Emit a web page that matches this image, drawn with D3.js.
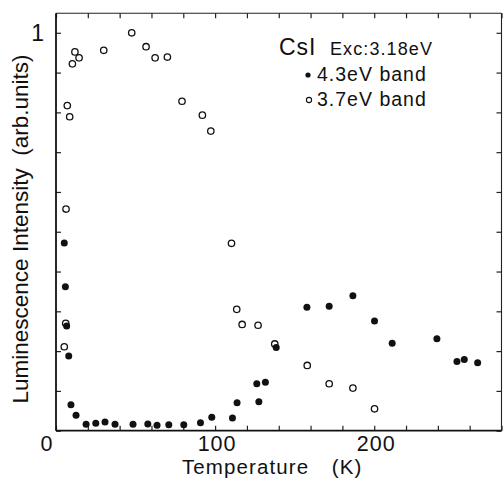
<!DOCTYPE html>
<html>
<head>
<meta charset="utf-8">
<script src="https://cdn.jsdelivr.net/npm/d3@7"></script>
<style>
  html, body { margin: 0; padding: 0; background: #fff; }
  svg text { font-family: "Liberation Sans", Arial, Helvetica, sans-serif; fill: #111; white-space: pre; }
</style>
</head>
<body>
<div id="chart"></div>
<script>
// ---- data ----
const band43_T = [5.2, 5.9, 6.7, 8.0, 9.4, 12.6, 18.9, 25.0, 30.8, 37.1, 48.4, 57.7, 63.5, 70.9, 80.3, 90.8, 97.9, 110.9, 113.8, 126.2, 127.5, 131.6, 138.4, 157.7, 171.7, 186.6, 200.2, 211.3, 239.4, 252.0, 256.6, 265.0];
const band43_I = [0.472, 0.362, 0.263, 0.188, 0.065, 0.039, 0.016, 0.019, 0.022, 0.016, 0.016, 0.017, 0.014, 0.015, 0.015, 0.020, 0.034, 0.032, 0.070, 0.118, 0.073, 0.122, 0.209, 0.310, 0.313, 0.339, 0.276, 0.220, 0.231, 0.174, 0.179, 0.171];
const band37_T = [5.2, 6.1, 6.3, 7.1, 8.6, 10.3, 11.9, 14.5, 30.0, 47.6, 56.6, 62.3, 70.0, 79.2, 92.0, 97.3, 110.3, 113.6, 117.0, 127.0, 137.5, 157.9, 171.7, 186.6, 200.2];
const band37_I = [0.211, 0.270, 0.557, 0.817, 0.789, 0.922, 0.952, 0.937, 0.956, 1.000, 0.965, 0.937, 0.939, 0.828, 0.793, 0.753, 0.471, 0.305, 0.267, 0.265, 0.218, 0.164, 0.118, 0.107, 0.055];
const xTickLabels = [0, 100, 200];
const yTickLabels = [1];
const xDomain = [0, 280];
const yDomain = [0, 1.049];
const legendTitle = "CsI";
const legendSub = "Exc:3.18eV";
const legendLabels = ["4.3eV band", "3.7eV band"];
const xTitle = "Temperature  (K)";
const yTitle = "Luminescence Intensity  (arb.units)";

// ---- layout ----
const W = 503, H = 480;
const m = { left: 56, top: 13.3, right: 1.5, bottom: 49.3 };
const pw = W - m.left - m.right, ph = H - m.top - m.bottom;

const svg = d3.select("#chart").append("svg").attr("width", W).attr("height", H);
const g = svg.append("g").attr("transform", `translate(${m.left},${m.top})`);

const x = d3.scaleLinear().domain(xDomain).range([0, pw]);
const y = d3.scaleLinear().domain(yDomain).range([ph, 0]);

const xt = d3.range(0, 281, 20);
const yt = d3.range(0, 1.001, 0.1);

// tick-only axes (inward)
const tickStyle = sel => { sel.select(".domain").remove(); sel.selectAll("line").attr("stroke", "#222").attr("stroke-width", 1.2); sel.selectAll("text").remove(); };
g.append("g").attr("transform", `translate(0,${ph})`).call(d3.axisBottom(x).tickValues(xt).tickSizeInner(-5).tickSizeOuter(0)).call(tickStyle);
g.append("g").call(d3.axisTop(x).tickValues(xt).tickSizeInner(-5).tickSizeOuter(0)).call(tickStyle);
g.append("g").call(d3.axisLeft(y).tickValues(yt).tickSizeInner(-5).tickSizeOuter(0)).call(tickStyle);
g.append("g").attr("transform", `translate(${pw},0)`).call(d3.axisRight(y).tickValues(yt).tickSizeInner(-5).tickSizeOuter(0)).call(tickStyle);

// frame
g.append("line").attr("x1", 0).attr("x2", pw).attr("y1", 0).attr("y2", 0).attr("stroke", "#222").attr("stroke-width", 1.1);
g.append("line").attr("x1", pw).attr("x2", pw).attr("y1", 0).attr("y2", ph).attr("stroke", "#222").attr("stroke-width", 1.1);
g.append("line").attr("x1", 0).attr("x2", 0).attr("y1", 0).attr("y2", ph).attr("stroke", "#111").attr("stroke-width", 1.8);
g.append("line").attr("x1", 0).attr("x2", pw).attr("y1", ph).attr("y2", ph).attr("stroke", "#111").attr("stroke-width", 1.8);

// tick labels
g.selectAll(".xl").data(xTickLabels).enter().append("text")
  .attr("x", d => d === 0 ? x(d) - 9 : x(d) + 2).attr("y", ph + 20)
  .attr("text-anchor", "middle").attr("font-size", 21.5).attr("letter-spacing", 1).text(d => d);
g.selectAll(".yl").data(yTickLabels).enter().append("text")
  .attr("x", -12).attr("y", d => y(d) + 8)
  .attr("text-anchor", "end").attr("font-size", 23).text(d => d);

// axis titles
svg.append("text").attr("x", 182).attr("y", 473.5).attr("text-anchor", "start")
  .attr("xml:space", "preserve").attr("letter-spacing", 1.1).attr("word-spacing", 4.5)
  .attr("font-size", 20.5).text(xTitle);
svg.append("text").attr("transform", "translate(27.5,229) rotate(-90)").attr("text-anchor", "middle")
  .attr("xml:space", "preserve").attr("font-size", 22.5).text(yTitle);

// points
const d43 = band43_T.map((t, i) => ({ t, v: band43_I[i] }));
const d37 = band37_T.map((t, i) => ({ t, v: band37_I[i] }));
g.selectAll(".p37").data(d37).enter().append("circle")
  .attr("cx", d => x(d.t)).attr("cy", d => y(d.v)).attr("r", 3.2)
  .attr("fill", "#fff").attr("stroke", "#111").attr("stroke-width", 1.3);
g.selectAll(".p43").data(d43).enter().append("circle")
  .attr("cx", d => x(d.t)).attr("cy", d => y(d.v)).attr("r", 3.5)
  .attr("fill", "#111");

// legend
svg.append("text").attr("x", 279).attr("y", 55).attr("font-size", 23).attr("letter-spacing", 1).text(legendTitle);
svg.append("text").attr("x", 330).attr("y", 55).attr("font-size", 18).attr("letter-spacing", 1.1).text(legendSub);
svg.append("circle").attr("cx", 308).attr("cy", 75).attr("r", 2.6).attr("fill", "#111");
svg.append("text").attr("x", 317).attr("y", 81).attr("font-size", 19.5).attr("letter-spacing", 1).text(legendLabels[0]);
svg.append("circle").attr("cx", 309).attr("cy", 100).attr("r", 2.6).attr("fill", "#fff").attr("stroke", "#111").attr("stroke-width", 1.1);
svg.append("text").attr("x", 317).attr("y", 106).attr("font-size", 19.5).attr("letter-spacing", 1).text(legendLabels[1]);
</script>
</body>
</html>
